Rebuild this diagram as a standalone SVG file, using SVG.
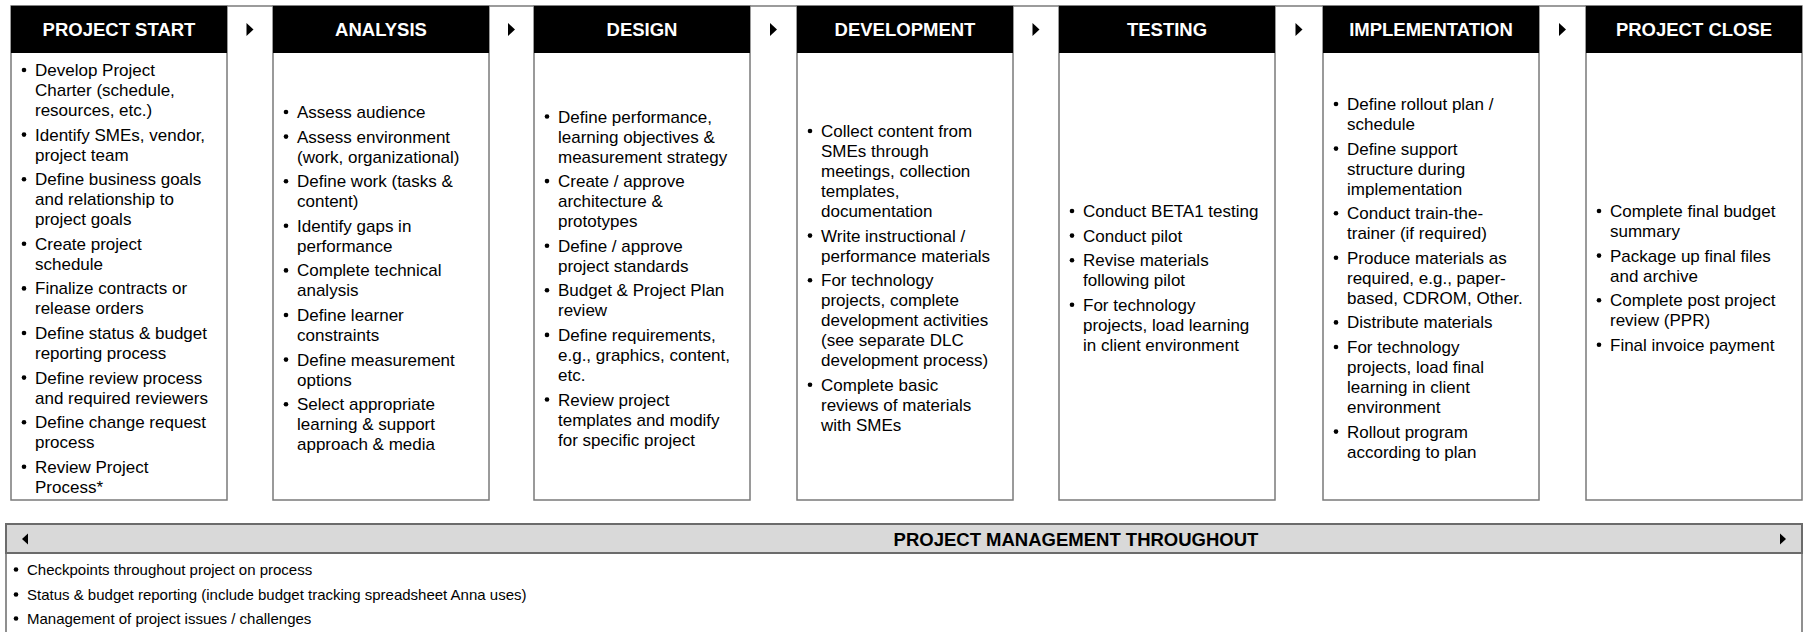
<svg xmlns="http://www.w3.org/2000/svg" width="1804" height="632" viewBox="0 0 1804 632">
<style>
.hdr{fill:#000}
.body{fill:#fff;stroke:#7a7a7a;stroke-width:1.5}
.ht{font-family:"Liberation Sans",Arial,sans-serif;font-weight:bold;font-size:18.5px;fill:#fff;text-anchor:middle}
.t{font-family:"Liberation Sans",Arial,sans-serif;font-size:17px;fill:#000}
.bt{font-family:"Liberation Sans",Arial,sans-serif;font-size:15px;fill:#000}
.pm{font-family:"Liberation Sans",Arial,sans-serif;font-weight:bold;font-size:18.5px;fill:#000;text-anchor:middle}
.dot circle{fill:#000;r:2.3px}
.arr{fill:#000}
</style>
<rect width="1804" height="632" fill="#fff"/>
<line x1="11" y1="6" x2="1802" y2="6" stroke="#7a7a7a" stroke-width="1.5"/>

<g id="project-start">
<rect class="body" x="11" y="6" width="216" height="494"/>
<rect class="hdr" x="11" y="6" width="216" height="47"/>
<text class="ht" x="119" y="36">PROJECT START</text>
<g class="t">
<text x="35" y="76"><tspan x="35">Develop Project</tspan><tspan x="35" dy="20">Charter (schedule,</tspan><tspan x="35" dy="20">resources, etc.)</tspan></text>
<text x="35" y="140.6"><tspan x="35">Identify SMEs, vendor,</tspan><tspan x="35" dy="20">project team</tspan></text>
<text x="35" y="185.2"><tspan x="35">Define business goals</tspan><tspan x="35" dy="20">and relationship to</tspan><tspan x="35" dy="20">project goals</tspan></text>
<text x="35" y="249.8"><tspan x="35">Create project</tspan><tspan x="35" dy="20">schedule</tspan></text>
<text x="35" y="294.4"><tspan x="35">Finalize contracts or</tspan><tspan x="35" dy="20">release orders</tspan></text>
<text x="35" y="339"><tspan x="35">Define status &amp; budget</tspan><tspan x="35" dy="20">reporting process</tspan></text>
<text x="35" y="383.6"><tspan x="35">Define review process</tspan><tspan x="35" dy="20">and required reviewers</tspan></text>
<text x="35" y="428.2"><tspan x="35">Define change request</tspan><tspan x="35" dy="20">process</tspan></text>
<text x="35" y="472.8"><tspan x="35">Review Project</tspan><tspan x="35" dy="20">Process*</tspan></text>
</g>
<g class="dot">
<circle cx="24" cy="70" r="2.3"/><circle cx="24" cy="134.6" r="2.3"/><circle cx="24" cy="179.2" r="2.3"/><circle cx="24" cy="243.8" r="2.3"/><circle cx="24" cy="288.4" r="2.3"/><circle cx="24" cy="333" r="2.3"/><circle cx="24" cy="377.6" r="2.3"/><circle cx="24" cy="422.2" r="2.3"/><circle cx="24" cy="466.8" r="2.3"/>
</g>
</g>

<g id="analysis">
<rect class="body" x="273" y="6" width="216" height="494"/>
<rect class="hdr" x="273" y="6" width="216" height="47"/>
<text class="ht" x="381" y="36">ANALYSIS</text>
<g class="t">
<text x="297" y="118">Assess audience</text>
<text x="297" y="142.6"><tspan x="297">Assess environment</tspan><tspan x="297" dy="20">(work, organizational)</tspan></text>
<text x="297" y="187.2"><tspan x="297">Define work (tasks &amp;</tspan><tspan x="297" dy="20">content)</tspan></text>
<text x="297" y="231.8"><tspan x="297">Identify gaps in</tspan><tspan x="297" dy="20">performance</tspan></text>
<text x="297" y="276.4"><tspan x="297">Complete technical</tspan><tspan x="297" dy="20">analysis</tspan></text>
<text x="297" y="321"><tspan x="297">Define learner</tspan><tspan x="297" dy="20">constraints</tspan></text>
<text x="297" y="365.6"><tspan x="297">Define measurement</tspan><tspan x="297" dy="20">options</tspan></text>
<text x="297" y="410.2"><tspan x="297">Select appropriate</tspan><tspan x="297" dy="20">learning &amp; support</tspan><tspan x="297" dy="20">approach &amp; media</tspan></text>
</g>
<g class="dot">
<circle cx="286" cy="112" r="2.3"/><circle cx="286" cy="136.6" r="2.3"/><circle cx="286" cy="181.2" r="2.3"/><circle cx="286" cy="225.8" r="2.3"/><circle cx="286" cy="270.4" r="2.3"/><circle cx="286" cy="315" r="2.3"/><circle cx="286" cy="359.6" r="2.3"/><circle cx="286" cy="404.2" r="2.3"/>
</g>
</g>

<g id="design">
<rect class="body" x="534" y="6" width="216" height="494"/>
<rect class="hdr" x="534" y="6" width="216" height="47"/>
<text class="ht" x="642" y="36">DESIGN</text>
<g class="t">
<text x="558" y="122.5"><tspan x="558">Define performance,</tspan><tspan x="558" dy="20">learning objectives &amp;</tspan><tspan x="558" dy="20">measurement strategy</tspan></text>
<text x="558" y="187.1"><tspan x="558">Create / approve</tspan><tspan x="558" dy="20">architecture &amp;</tspan><tspan x="558" dy="20">prototypes</tspan></text>
<text x="558" y="251.7"><tspan x="558">Define / approve</tspan><tspan x="558" dy="20">project standards</tspan></text>
<text x="558" y="296.3"><tspan x="558">Budget &amp; Project Plan</tspan><tspan x="558" dy="20">review</tspan></text>
<text x="558" y="340.9"><tspan x="558">Define requirements,</tspan><tspan x="558" dy="20">e.g., graphics, content,</tspan><tspan x="558" dy="20">etc.</tspan></text>
<text x="558" y="405.5"><tspan x="558">Review project</tspan><tspan x="558" dy="20">templates and modify</tspan><tspan x="558" dy="20">for specific project</tspan></text>
</g>
<g class="dot">
<circle cx="547" cy="116.5" r="2.3"/><circle cx="547" cy="181.1" r="2.3"/><circle cx="547" cy="245.7" r="2.3"/><circle cx="547" cy="290.3" r="2.3"/><circle cx="547" cy="334.9" r="2.3"/><circle cx="547" cy="399.5" r="2.3"/>
</g>
</g>

<g id="development">
<rect class="body" x="797" y="6" width="216" height="494"/>
<rect class="hdr" x="797" y="6" width="216" height="47"/>
<text class="ht" x="905" y="36">DEVELOPMENT</text>
<g class="t">
<text x="821" y="137"><tspan x="821">Collect content from</tspan><tspan x="821" dy="20">SMEs through</tspan><tspan x="821" dy="20">meetings, collection</tspan><tspan x="821" dy="20">templates,</tspan><tspan x="821" dy="20">documentation</tspan></text>
<text x="821" y="241.6"><tspan x="821">Write instructional /</tspan><tspan x="821" dy="20">performance materials</tspan></text>
<text x="821" y="286.2"><tspan x="821">For technology</tspan><tspan x="821" dy="20">projects, complete</tspan><tspan x="821" dy="20">development activities</tspan><tspan x="821" dy="20">(see separate DLC</tspan><tspan x="821" dy="20">development process)</tspan></text>
<text x="821" y="390.8"><tspan x="821">Complete basic</tspan><tspan x="821" dy="20">reviews of materials</tspan><tspan x="821" dy="20">with SMEs</tspan></text>
</g>
<g class="dot">
<circle cx="810" cy="131" r="2.3"/><circle cx="810" cy="235.6" r="2.3"/><circle cx="810" cy="280.2" r="2.3"/><circle cx="810" cy="384.8" r="2.3"/>
</g>
</g>

<g id="testing">
<rect class="body" x="1059" y="6" width="216" height="494"/>
<rect class="hdr" x="1059" y="6" width="216" height="47"/>
<text class="ht" x="1167" y="36">TESTING</text>
<g class="t">
<text x="1083" y="217">Conduct BETA1 testing</text>
<text x="1083" y="241.6">Conduct pilot</text>
<text x="1083" y="266.2"><tspan x="1083">Revise materials</tspan><tspan x="1083" dy="20">following pilot</tspan></text>
<text x="1083" y="310.8"><tspan x="1083">For technology</tspan><tspan x="1083" dy="20">projects, load learning</tspan><tspan x="1083" dy="20">in client environment</tspan></text>
</g>
<g class="dot">
<circle cx="1072" cy="211" r="2.3"/><circle cx="1072" cy="235.6" r="2.3"/><circle cx="1072" cy="260.2" r="2.3"/><circle cx="1072" cy="304.8" r="2.3"/>
</g>
</g>

<g id="implementation">
<rect class="body" x="1323" y="6" width="216" height="494"/>
<rect class="hdr" x="1323" y="6" width="216" height="47"/>
<text class="ht" x="1431" y="36">IMPLEMENTATION</text>
<g class="t">
<text x="1347" y="110"><tspan x="1347">Define rollout plan /</tspan><tspan x="1347" dy="20">schedule</tspan></text>
<text x="1347" y="154.6"><tspan x="1347">Define support</tspan><tspan x="1347" dy="20">structure during</tspan><tspan x="1347" dy="20">implementation</tspan></text>
<text x="1347" y="219.2"><tspan x="1347">Conduct train-the-</tspan><tspan x="1347" dy="20">trainer (if required)</tspan></text>
<text x="1347" y="263.8"><tspan x="1347">Produce materials as</tspan><tspan x="1347" dy="20">required, e.g., paper-</tspan><tspan x="1347" dy="20">based, CDROM, Other.</tspan></text>
<text x="1347" y="328.4">Distribute materials</text>
<text x="1347" y="353"><tspan x="1347">For technology</tspan><tspan x="1347" dy="20">projects, load final</tspan><tspan x="1347" dy="20">learning in client</tspan><tspan x="1347" dy="20">environment</tspan></text>
<text x="1347" y="437.6"><tspan x="1347">Rollout program</tspan><tspan x="1347" dy="20">according to plan</tspan></text>
</g>
<g class="dot">
<circle cx="1336" cy="104" r="2.3"/><circle cx="1336" cy="148.6" r="2.3"/><circle cx="1336" cy="213.2" r="2.3"/><circle cx="1336" cy="257.8" r="2.3"/><circle cx="1336" cy="322.4" r="2.3"/><circle cx="1336" cy="347" r="2.3"/><circle cx="1336" cy="431.6" r="2.3"/>
</g>
</g>

<g id="project-close">
<rect class="body" x="1586" y="6" width="216" height="494"/>
<rect class="hdr" x="1586" y="6" width="216" height="47"/>
<text class="ht" x="1694" y="36">PROJECT CLOSE</text>
<g class="t">
<text x="1610" y="217"><tspan x="1610">Complete final budget</tspan><tspan x="1610" dy="20">summary</tspan></text>
<text x="1610" y="261.6"><tspan x="1610">Package up final files</tspan><tspan x="1610" dy="20">and archive</tspan></text>
<text x="1610" y="306.2"><tspan x="1610">Complete post project</tspan><tspan x="1610" dy="20">review (PPR)</tspan></text>
<text x="1610" y="350.8">Final invoice payment</text>
</g>
<g class="dot">
<circle cx="1599" cy="211" r="2.3"/><circle cx="1599" cy="255.6" r="2.3"/><circle cx="1599" cy="300.2" r="2.3"/><circle cx="1599" cy="344.8" r="2.3"/>
</g>
</g>

<g id="connectors">
<polygon class="arr" points="246.5,23 253.5,29.5 246.5,36"/>
<polygon class="arr" points="508,23 515,29.5 508,36"/>
<polygon class="arr" points="770,23 777,29.5 770,36"/>
<polygon class="arr" points="1032.5,23 1039.5,29.5 1032.5,36"/>
<polygon class="arr" points="1295.5,23 1302.5,29.5 1295.5,36"/>
<polygon class="arr" points="1559,23 1566,29.5 1559,36"/>
</g>

<g id="project-management">
<rect x="6" y="524" width="1796" height="140" fill="#fff" stroke="#6b6b6b" stroke-width="1.5"/>
<rect x="6" y="524" width="1796" height="29" fill="#d9d9d9" stroke="#6b6b6b" stroke-width="2"/>
<polygon class="arr" points="22,539 28,533.5 28,544.5"/>
<polygon class="arr" points="1786,539 1780,533.5 1780,544.5"/>
<text class="pm" x="1076" y="545.5">PROJECT MANAGEMENT THROUGHOUT</text>
<g class="bt">
<text x="27" y="574.5">Checkpoints throughout project on process</text>
<text x="27" y="599.5">Status &amp; budget reporting (include budget tracking spreadsheet Anna uses)</text>
<text x="27" y="623.5">Management of project issues / challenges</text>
</g>
<g class="dot">
<circle cx="16" cy="569.5" r="2"/><circle cx="16" cy="594.5" r="2"/><circle cx="16" cy="618.5" r="2"/>
</g>
</g>
</svg>
